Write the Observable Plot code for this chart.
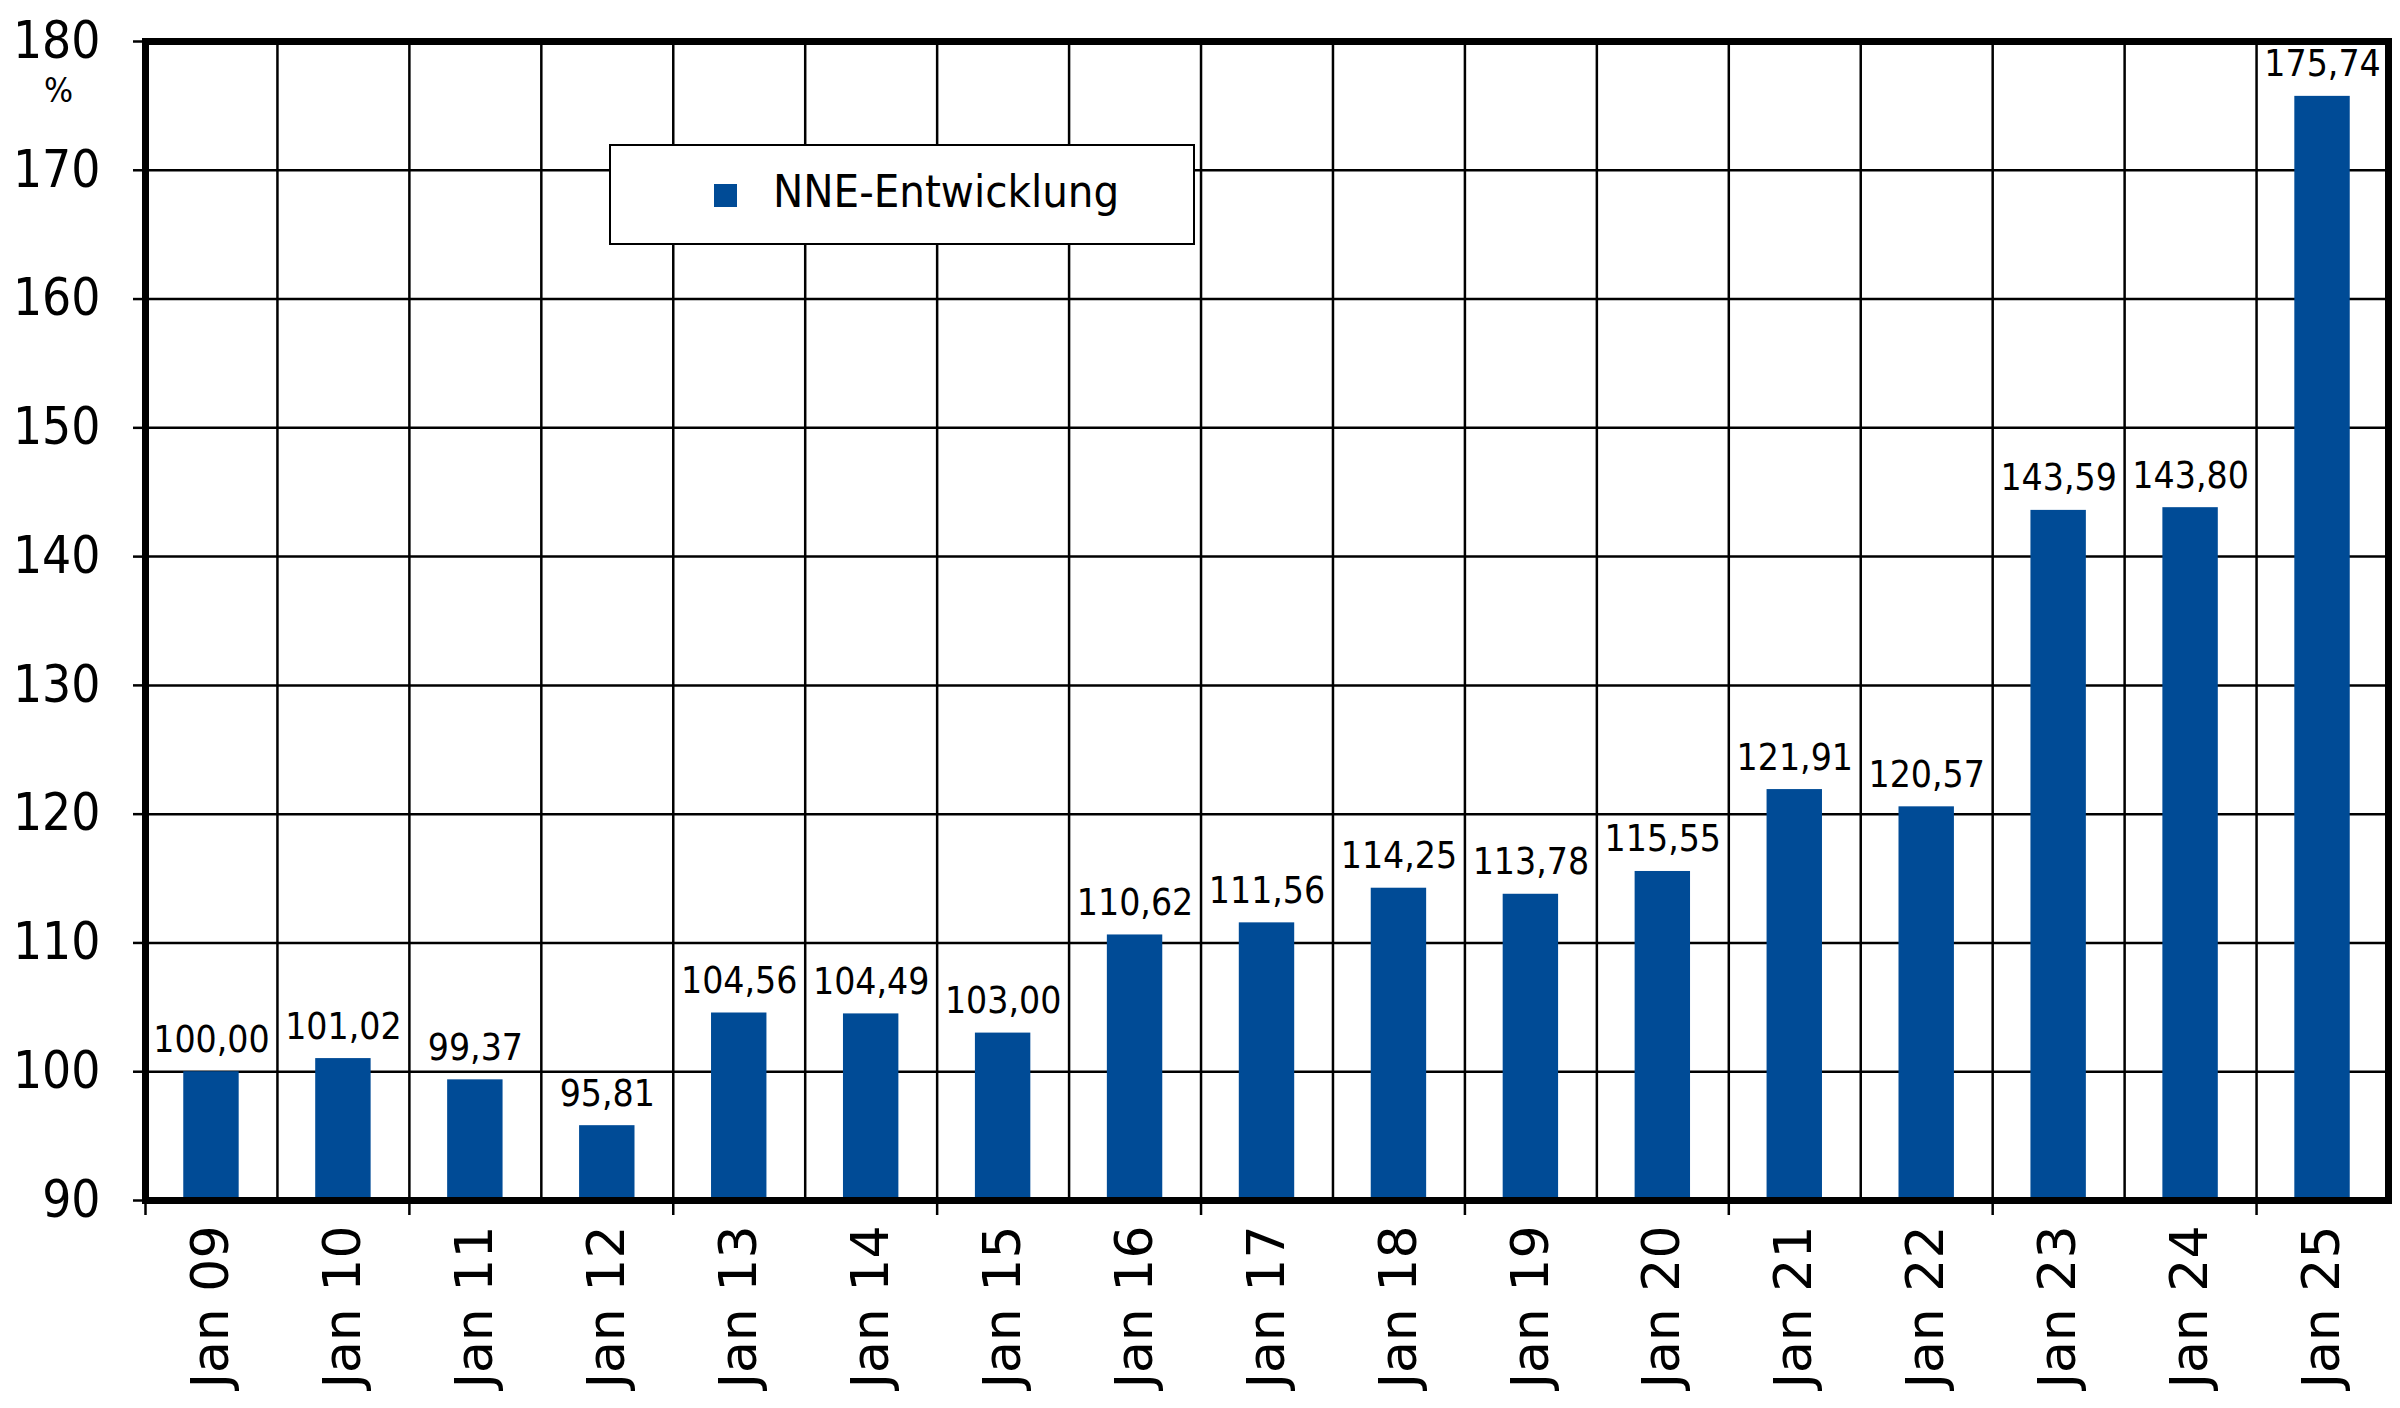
<!DOCTYPE html>
<html>
<head>
<meta charset="utf-8">
<script src="https://cdn.jsdelivr.net/npm/d3@7"></script>
<script src="https://cdn.jsdelivr.net/npm/@observablehq/plot@0.6"></script>
<style>
  html, body { margin: 0; padding: 0; background: #fff; }
  #wrap { position: relative; width: 2400px; height: 1408px; }
  #legend {
    position: absolute; left: 609px; top: 144px; width: 582px; height: 97px;
    border: 2px solid #000; background: #fff; box-sizing: content-box;
    font-family: "DejaVu Sans Condensed", "DejaVu Sans", sans-serif; font-size: 45px; color: #000;
  }
  #legend .sw { position: absolute; left: 103px; top: 38px; width: 23px; height: 23px; background: #004b96; }
  #legend .lb { position: absolute; left: 162px; top: 18px; line-height: 56px; white-space: nowrap; }
</style>
</head>
<body>
<div id="wrap"></div>
<script>
const categories = ["Jan 09","Jan 10","Jan 11","Jan 12","Jan 13","Jan 14","Jan 15","Jan 16","Jan 17","Jan 18","Jan 19","Jan 20","Jan 21","Jan 22","Jan 23","Jan 24","Jan 25"];
const values = [100.00, 101.02, 99.37, 95.81, 104.56, 104.49, 103.00, 110.62, 111.56, 114.25, 113.78, 115.55, 121.91, 120.57, 143.59, 143.80, 175.74];
const yTicks = [90, 100, 110, 120, 130, 140, 150, 160, 170, 180];
const seriesName = "NNE-Entwicklung";
const unitLabel = "%";
const barColor = "#004b96";

const data = categories.map((c, i) => ({i, label: c, value: values[i]}));
const fmt = v => v.toFixed(2).replace(".", ",");
const n = categories.length;
const boundaries = d3.range(0, n + 1);
const evenBoundaries = boundaries.filter(b => b % 2 === 0 && b < n);
const centers = d3.range(0, n).map(i => i + 0.5);
const half = 0.21;

const chart = Plot.plot({
  width: 2400,
  height: 1408,
  marginLeft: 145,
  marginRight: 12,
  marginTop: 41,
  marginBottom: 208,
  style: {fontFamily: "'DejaVu Sans Condensed', 'DejaVu Sans', sans-serif", color: "#000", background: "#fff"},
  x: {type: "linear", domain: [0, n]},
  y: {domain: [90, 180]},
  marks: [
    Plot.gridY(yTicks, {stroke: "#000", strokeOpacity: 1, strokeWidth: 2.5}),
    Plot.ruleX(boundaries.slice(1, n), {stroke: "#000", strokeWidth: 2.5}),
    Plot.rect(data, {x1: d => d.i + 0.5 - half, x2: d => d.i + 0.5 + half, y1: 90, y2: "value", fill: barColor}),
    Plot.text(data, {x: d => d.i + 0.5, y: "value", text: d => fmt(d.value), lineAnchor: "bottom", dy: -20, fontSize: 37, fill: "#000"}),
    Plot.axisY(yTicks, {tickSize: 12, tickPadding: 33, fontSize: 51, strokeWidth: 2.5, label: null}),
    Plot.axisX(evenBoundaries, {tickSize: 15, tickFormat: () => "", strokeWidth: 2.5, label: null}),
    Plot.axisX(centers, {tickSize: 0, tickPadding: 25, tickRotate: -90, tickFormat: v => categories[Math.round(v - 0.5)], fontSize: 52, fontFamily: "'DejaVu Sans', sans-serif", label: null}),
    Plot.frame({stroke: "#000", strokeWidth: 7}),
    Plot.text([unitLabel], {frameAnchor: "top-left", dx: -87, dy: 36, fontSize: 34, fill: "#000", textAnchor: "middle"})
  ]
});

const wrap = document.getElementById("wrap");
wrap.appendChild(chart);
const legend = document.createElement("div");
legend.id = "legend";
legend.innerHTML = `<div class="sw"></div><div class="lb">${seriesName}</div>`;
wrap.appendChild(legend);
</script>
</body>
</html>
